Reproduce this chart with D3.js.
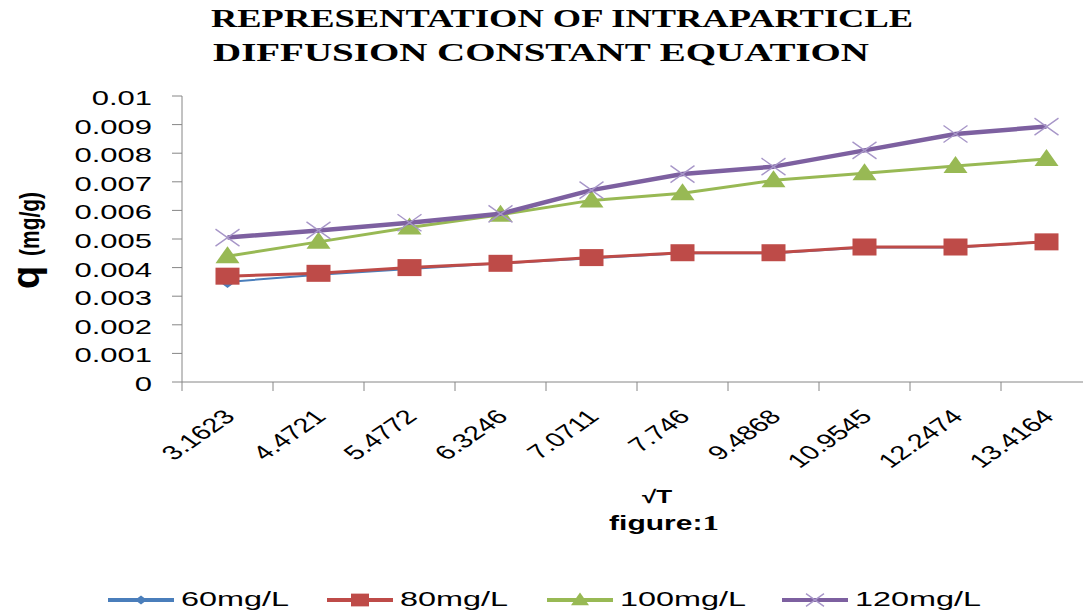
<!DOCTYPE html>
<html>
<head>
<meta charset="utf-8">
<script src="https://cdn.jsdelivr.net/npm/d3@7"></script>
<style>
  body { margin: 0; background: #fff; }
  text { font-family: "Liberation Sans", Arial, sans-serif; fill: #000; }
  text.serif { font-family: "Liberation Serif", "Times New Roman", serif; }
</style>
</head>
<body>
<div id="container"></div>
<script>
/* global d3*/

const width = 1083;
const height = 611;

// data
const sqrtT = ["3.1623", "4.4721", "5.4772", "6.3246", "7.0711", "7.746", "9.4868", "10.9545", "12.2474", "13.4164"];
const q60 = [0.0035, 0.00375, 0.00395, 0.00415, 0.00433, 0.0045, 0.0045, 0.0047, 0.0047, 0.0049];
const q80 = [0.0037, 0.0038, 0.004, 0.00415, 0.00435, 0.00452, 0.00452, 0.00472, 0.00472, 0.0049];
const q100 = [0.0044, 0.0049, 0.0054, 0.00585, 0.00635, 0.0066, 0.00705, 0.0073, 0.00755, 0.0078];
const q120 = [0.00505, 0.0053, 0.00557, 0.00588, 0.00671, 0.00727, 0.00753, 0.0081, 0.00867, 0.00893];
const seriesNames = ["60mg/L", "80mg/L", "100mg/L", "120mg/L"];
const yTicks = [0, 0.001, 0.002, 0.003, 0.004, 0.005, 0.006, 0.007, 0.008, 0.009, 0.01];

const series = [
  { name: seriesNames[0], values: q60, color: "#4a7ebb", width: 2, marker: "diamond" },
  { name: seriesNames[1], values: q80, color: "#be4b48", width: 3, marker: "square" },
  { name: seriesNames[2], values: q100, color: "#98b954", width: 3, marker: "triangle" },
  { name: seriesNames[3], values: q120, color: "#7d60a0", width: 4.5, marker: "x" }
];

const svg = d3
  .select("#container")
  .append("svg")
  .attr("width", width)
  .attr("height", height);

svg.append("rect").attr("width", width).attr("height", height).attr("fill", "#fff");

const xScale = d3.scaleBand(sqrtT, [182, 1092]);
const yScale = d3.scaleLinear([0, 0.01], [382, 96]);
const cx = (i) => xScale(sqrtT[i]) + xScale.bandwidth() / 2;

// the picture is stretched sideways, so is the text
const wide = (g, x, y, k) => g.append("g").attr("transform", `translate(${x},${y}) scale(${k},1)`);

// title
svg.append("text").attr("class", "serif").attr("x", 562).attr("y", 27).attr("text-anchor", "middle")
  .attr("font-size", 26).attr("font-weight", "bold")
  .attr("textLength", 702).attr("lengthAdjust", "spacingAndGlyphs")
  .text("REPRESENTATION OF INTRAPARTICLE");
svg.append("text").attr("class", "serif").attr("x", 541).attr("y", 61).attr("text-anchor", "middle")
  .attr("font-size", 26).attr("font-weight", "bold")
  .attr("textLength", 656).attr("lengthAdjust", "spacingAndGlyphs")
  .text("DIFFUSION CONSTANT EQUATION");

// y axis
const yAx = svg.append("g").attr("id", "y-axis");
yAx.append("line").attr("x1", 182).attr("x2", 182).attr("y1", yScale(0.01)).attr("y2", yScale(0))
  .attr("stroke", "#868686");
yTicks.forEach((t) => {
  yAx.append("line").attr("x1", 172).attr("x2", 182).attr("y1", yScale(t)).attr("y2", yScale(t))
    .attr("stroke", "#868686");
  wide(yAx, 152, yScale(t) + 9, 1.55).append("text")
    .attr("text-anchor", "end").attr("font-size", 20)
    .text(d3.format("")(t));
});

// x axis
const xAx = svg.append("g").attr("id", "x-axis");
xAx.append("line").attr("x1", 182).attr("x2", width).attr("y1", 382).attr("y2", 382)
  .attr("stroke", "#868686");
sqrtT.forEach((d, i) => {
  const x0 = xScale(d);
  xAx.append("line").attr("x1", x0).attr("x2", x0).attr("y1", 382).attr("y2", 391)
    .attr("stroke", "#868686");
  xAx.append("text")
    .attr("transform", `translate(${cx(i) + 9},${418}) scale(1.45,1) rotate(-45)`)
    .attr("text-anchor", "end").attr("font-size", 20)
    .text(d);
});

// axis titles
svg.append("text").attr("transform", "translate(39,289) rotate(-90)")
  .attr("font-size", 38).attr("font-weight", "bold").text("q");
svg.append("text").attr("transform", "translate(39,256) scale(1.35,1) rotate(-90) scale(1.05,1)")
  .attr("font-size", 20).attr("font-weight", "bold").text("(mg/g)");
wide(svg, 657, 503, 1.45).append("text").attr("text-anchor", "middle")
  .attr("font-size", 18).attr("font-weight", "bold").text("√T");
const fig = wide(svg, 664, 530, 1.5).append("text").attr("text-anchor", "middle")
  .attr("font-size", 20).attr("font-weight", "bold");
fig.append("tspan").text("figure:");
fig.append("tspan").attr("class", "serif").style("font-family", "'Liberation Serif', serif")
  .attr("font-size", 22).text("1");

// markers
const drawMarker = (g, type, x, y, color, s) => {
  if (type === "square") {
    g.append("rect").attr("x", x - 12 * s).attr("y", y - 8.5 * s)
      .attr("width", 24 * s).attr("height", 17 * s).attr("fill", color);
  } else if (type === "triangle") {
    g.append("path").attr("d", `M${x},${y - 10 * s}L${x + 12 * s},${y + 7 * s}L${x - 12 * s},${y + 7 * s}Z`)
      .attr("fill", color);
  } else if (type === "diamond") {
    g.append("path").attr("d", `M${x},${y - 6 * s}L${x + 8 * s},${y}L${x},${y + 6 * s}L${x - 8 * s},${y}Z`)
      .attr("fill", color);
  } else {
    g.append("path").attr("d", `M${x - 12 * s},${y - 8.5 * s}L${x + 12 * s},${y + 8.5 * s}M${x - 12 * s},${y + 8.5 * s}L${x + 12 * s},${y - 8.5 * s}`)
      .attr("stroke", "#a796c8").attr("stroke-width", 1.4).attr("fill", "none");
  }
};

const line = d3.line().x((d, i) => cx(i)).y((d) => yScale(d));

series.forEach((s) => {
  const g = svg.append("g").attr("class", "series");
  g.append("path").attr("d", line(s.values)).attr("fill", "none")
    .attr("stroke", s.color).attr("stroke-width", s.width).attr("stroke-linejoin", "round");
  s.values.forEach((v, i) => drawMarker(g, s.marker, cx(i), yScale(v), s.color, 1));
});

// legend
const legendX = [108, 327, 547, 782];
series.forEach((s, i) => {
  const g = svg.append("g").attr("class", "legend");
  g.append("line").attr("x1", legendX[i]).attr("x2", legendX[i] + 66).attr("y1", 600).attr("y2", 600)
    .attr("stroke", s.color).attr("stroke-width", 4);
  drawMarker(g, s.marker, legendX[i] + 33, 600, s.color, 0.75);
  wide(g, legendX[i] + 73, 606, 1.62).append("text").attr("font-size", 20).text(s.name);
});
</script>
</body>
</html>
